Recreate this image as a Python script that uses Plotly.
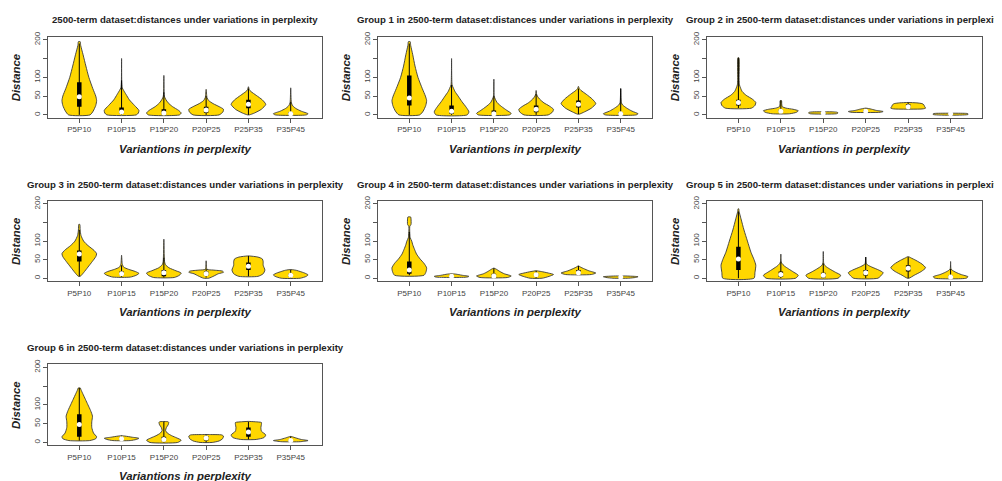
import plotly.graph_objects as go

categories = ["P5P10", "P10P15", "P15P20", "P20P25", "P25P35", "P35P45"]
panel_titles = [
    "2500-term dataset:distances under variations in perplexity",
    "Group 1 in 2500-term dataset:distances under variations in perplexity",
    "Group 2 in 2500-term dataset:distances under variations in perplexity",
    "Group 3 in 2500-term dataset:distances under variations in perplexity",
    "Group 4 in 2500-term dataset:distances under variations in perplexity",
    "Group 5 in 2500-term dataset:distances under variations in perplexity",
    "Group 6 in 2500-term dataset:distances under variations in perplexity",
]
y_tick_vals = [0, 50, 100, 150, 200]
y_tick_text = ["0", "50", "100", "", "200"]
x_title = "Variantions in perplexity"
y_title = "Distance"

# violin outlines: (distance, relative half-width)
shape_all = [
    [(0, .62), (10, .8), (25, .95), (38, 1), (50, .95), (70, .78), (100, .55), (130, .38), (160, .22), (185, .08), (195, .05)],
    [(0, .85), (5, .97), (12, 1), (25, .75), (40, .45), (55, .25), (65, .12), (72, .04), (90, .01), (150, 0)],
    [(0, .9), (5, 1), (12, .85), (22, .5), (32, .25), (42, .1), (50, .03), (105, 0)],
    [(0, .75), (8, .97), (15, 1), (22, .75), (30, .4), (38, .15), (46, .05), (68, 0)],
    [(0, .05), (5, .35), (15, .75), (28, 1), (40, .8), (52, .45), (62, .15), (67, .05), (75, 0)],
    [(0, .9), (3, 1), (10, .6), (17, .3), (24, .12), (32, .04), (72, 0)],
]
shape_g1 = [
    [(0, .6), (10, .8), (25, .95), (38, 1), (50, .93), (70, .75), (100, .5), (130, .33), (160, .2), (185, .08), (195, .05)],
    [(0, .9), (8, 1), (20, .85), (35, .6), (50, .38), (62, .2), (72, .1), (80, .03), (150, 0)],
    [(0, .9), (4, 1), (12, .75), (22, .45), (32, .2), (42, .08), (50, .02), (95, 0)],
    [(0, .7), (8, .95), (15, 1), (24, .75), (32, .45), (42, .2), (50, .07), (56, .02), (65, 0)],
    [(2, .05), (8, .35), (18, .75), (30, 1), (42, .8), (55, .45), (65, .15), (70, .05), (76, 0)],
    [(0, .9), (3, 1), (10, .65), (18, .35), (26, .12), (32, .04), (70, 0)],
]
shape_g2 = [
    [(18, .75), (25, .95), (33, 1), (42, .8), (52, .45), (62, .22), (72, .12), (80, .06), (95, .04), (152, .03)],
    [(3, .5), (7, .9), (11, 1), (15, .7), (18, .3), (22, .08), (30, .05), (38, .04)],
    [(3, .75), (5, .85), (7, .8), (8, .6)],
    [(7, .85), (9, 1), (12, .6), (15, .35), (17, .15), (18, 0)],
    [(16, .85), (18, 1), (22, .95), (27, .9), (30, .8), (32, .5), (33, 0)],
    [(1, 1), (3, 1), (4, .9)],
]
shape_g3 = [
    [(5, .05), (15, .25), (30, .5), (45, .75), (58, .95), (66, 1), (75, .85), (88, .5), (100, .25), (115, .1), (130, .05), (145, .03)],
    [(3, .5), (8, .85), (13, 1), (18, .8), (24, .4), (30, .12), (38, .04), (62, 0)],
    [(2, .6), (8, .9), (14, 1), (20, .7), (28, .3), (36, .1), (45, .04), (105, 0)],
    [(0, .15), (6, .45), (12, .7), (16, 1), (19, .95), (22, .4), (24, .05), (47, 0)],
    [(5, .55), (12, .85), (22, .95), (35, .85), (45, .85), (52, .8), (57, .55), (60, .05)],
    [(0, .55), (5, .9), (9, 1), (14, .8), (18, .55), (21, .35), (23, .1)],
]
shape_g4 = [
    [(8, .85), (18, .97), (28, 1), (40, .85), (52, .62), (65, .42), (78, .3), (90, .2), (100, .14), (110, .05), (140, .03), (145, .1), (160, .1), (165, .08)],
    [(3, .9), (5, 1), (8, .6), (11, .25), (12, 0)],
    [(2, .8), (6, 1), (12, .6), (18, .35), (24, .15), (27, .02)],
    [(0, .35), (5, .75), (10, 1), (14, .7), (18, .3), (20, .02)],
    [(10, .75), (14, 1), (20, .6), (26, .3), (30, .12), (33, .02)],
    [(0, .45), (2, .85), (4, 1), (5, .8), (6, .3)],
]
shape_g5 = [
    [(0, .9), (15, .95), (35, 1), (50, .9), (70, .72), (100, .52), (130, .32), (160, .15), (180, .04), (187, .02)],
    [(0, .85), (8, 1), (16, .75), (25, .45), (33, .2), (40, .06), (45, .02), (65, 0)],
    [(0, .85), (8, 1), (16, .7), (24, .4), (30, .2), (36, .06), (42, .02), (72, 0)],
    [(0, .7), (8, .9), (15, 1), (22, .75), (30, .35), (36, .1), (40, .03), (57, 0)],
    [(0, .05), (8, .35), (18, .75), (28, 1), (38, .8), (48, .45), (55, .15), (58, .03)],
    [(0, .9), (4, 1), (10, .6), (16, .3), (22, .08), (26, .02), (45, 0)],
]
shape_g6 = [
    [(5, .6), (10, .95), (15, 1), (25, .82), (40, .72), (55, .72), (70, .76), (85, .65), (100, .5), (115, .35), (130, .2), (140, .1), (145, .06)],
    [(5, .5), (8, .85), (11, 1), (14, .6), (17, .2), (18, .02)],
    [(0, .8), (6, 1), (12, .75), (18, .45), (25, .2), (32, .1), (40, .15), (47, .25), (53, .28), (55, .25)],
    [(0, .35), (4, .75), (10, .95), (17, 1), (20, .9), (21, .2)],
    [(8, .45), (13, .9), (20, 1), (30, .75), (40, .72), (48, .75), (53, .75), (55, .4), (56, .02)],
    [(2, .55), (5, 1), (8, .6), (12, .3), (15, .1), (16, .02)],
]

# box statistics: (whisker low, q1, median, q3, whisker high)
stats_all = [(0, 22, 48, 87, 190), (0, 3, 8, 20, 92), (0, 1, 5, 15, 60), (0, 6, 13, 22, 50), (0, 18, 28, 40, 70), (0, 1, 3, 8, 35)]
stats_g1 = [(0, 25, 45, 105, 190), (0, 3, 10, 25, 80), (0, 1, 3, 12, 50), (0, 7, 15, 25, 55), (2, 20, 28, 38, 70), (0, 1, 3, 8, 70)]
stats_g2 = [(18, 25, 33, 40, 152), (3, 7, 10, 14, 38), (3, 4, 5, 7, 8), (7, 8, 10, 13, 17), (16, 18, 22, 28, 33), (1, 2, 3, 3.5, 4)]
stats_g3 = [(5, 45, 65, 75, 130), (3, 8, 12, 18, 35), (2, 5, 15, 22, 55), (2, 7, 12, 18, 25), (5, 22, 32, 42, 60), (0, 4, 8, 12, 23)]
stats_g4 = [(8, 12, 22, 45, 125), (3, 4, 5, 8, 12), (2, 3, 6, 12, 27), (0, 5, 9, 13, 20), (10, 12, 15, 22, 33), (0, 1, 3, 5, 6)]
stats_g5 = [(0, 22, 52, 85, 180), (0, 3, 10, 18, 45), (0, 2, 8, 15, 40), (0, 7, 15, 22, 57), (0, 18, 27, 35, 57), (0, 1, 3, 7, 25)]
stats_g6 = [(5, 15, 48, 75, 145), (5, 8, 10, 13, 18), (0, 3, 8, 15, 55), (0, 5, 12, 17, 21), (8, 15, 28, 40, 55), (2, 4, 5, 8, 16)]

panel_shapes = [shape_all, shape_g1, shape_g2, shape_g3, shape_g4, shape_g5, shape_g6]
panel_stats = [stats_all, stats_g1, stats_g2, stats_g3, stats_g4, stats_g5, stats_g6]

# ---------------- layout geometry (pixels) ----------------
W, H = 1002, 481
OFF = 8  # page body margin offset
col_px = [(48, 322), (378, 652), (707, 982)]
row_px = [(32, 114), (198, 279), (363, 445)]
HALF = 0.41
FILL = "#FFD700"
FONT = "Liberation Sans, Arial, sans-serif"


def fx(p):
    return (p - OFF) / W


def fy(p):
    return 1 - (p - OFF) / H


fig = go.Figure()
annotations = []
layout = {}

for p in range(7):
    r, c = divmod(p, 3)
    n = p + 1
    xa = "x" if n == 1 else f"x{n}"
    ya = "y" if n == 1 else f"y{n}"
    x0, x1 = col_px[c]
    y0, y1 = row_px[r]
    axis_common = dict(showline=True, linecolor="#555", linewidth=1, mirror=True,
                       ticks="outside", ticklen=4, tickcolor="#555", showgrid=False,
                       zeroline=False, tickfont=dict(family=FONT, size=8, color="#444"))
    layout["xaxis" if n == 1 else f"xaxis{n}"] = dict(
        domain=[fx(x0), fx(x1)], range=[0.26, 6.74], anchor=ya,
        tickvals=list(range(1, 7)), ticktext=categories, **axis_common)
    layout["yaxis" if n == 1 else f"yaxis{n}"] = dict(
        domain=[fy(y1), fy(y0)], range=[-8, 208], anchor=xa,
        tickvals=y_tick_vals, ticktext=y_tick_text, tickangle=-90, **axis_common)

    for i, (prof, st) in enumerate(zip(panel_shapes[p], panel_stats[p])):
        cx = i + 1
        ys = [v for v, _ in prof]
        ws = [w for _, w in prof]
        right_x = [cx + HALF * w for w in ws]
        left_x = [cx - HALF * w for w in ws][::-1]
        left_y = ys[::-1]
        if ws[-1] == 0:
            left_x = left_x[1:]
            left_y = left_y[1:]
        px_ = right_x + left_x + [right_x[0]]
        py_ = ys + left_y + [ys[0]]
        fig.add_trace(go.Scatter(x=px_, y=py_, xaxis=xa, yaxis=ya, mode="lines",
                                 fill="toself", fillcolor=FILL,
                                 line=dict(color="#3a3a3a", width=0.9, shape="spline", smoothing=0.6),
                                 hoverinfo="skip", showlegend=False))
        lo, q1, med, q3, hi = st
        fig.add_trace(go.Scatter(x=[cx, cx], y=[lo, hi], xaxis=xa, yaxis=ya, mode="lines",
                                 line=dict(color="black", width=1), hoverinfo="skip", showlegend=False))
        fig.add_trace(go.Scatter(x=[cx, cx], y=[q1, q3], xaxis=xa, yaxis=ya, mode="lines",
                                 line=dict(color="black", width=4.5), hoverinfo="skip", showlegend=False))
        fig.add_trace(go.Scatter(x=[cx], y=[med], xaxis=xa, yaxis=ya, mode="markers",
                                 marker=dict(color="white", size=5, line=dict(width=0)),
                                 hoverinfo="skip", showlegend=False))

    # titles
    annotations.append(dict(text="<b>" + panel_titles[p] + "</b>", xref="paper", yref="paper",
                            x=fx((x0 + x1) / 2), y=fy(y0 - 17), xanchor="center", yanchor="middle",
                            showarrow=False, font=dict(family=FONT, size=9.6, color="#222")))
    annotations.append(dict(text="<b><i>" + y_title + "</i></b>", xref="paper", yref="paper",
                            x=fx(x0 - 32), y=fy((y0 + y1) / 2), xanchor="center", yanchor="middle",
                            textangle=-90, showarrow=False,
                            font=dict(family=FONT, size=11.4, color="#222")))
    annotations.append(dict(text="<b><i>" + x_title + "</i></b>", xref="paper", yref="paper",
                            x=fx((x0 + x1) / 2), y=fy(y1 + 31), xanchor="center", yanchor="middle",
                            showarrow=False, font=dict(family=FONT, size=11.4, color="#222")))

fig.update_layout(width=W, height=H, margin=dict(l=0, r=0, t=0, b=0),
                  paper_bgcolor="white", plot_bgcolor="white",
                  annotations=annotations, showlegend=False, **layout)
fig.write_html("out.html")
